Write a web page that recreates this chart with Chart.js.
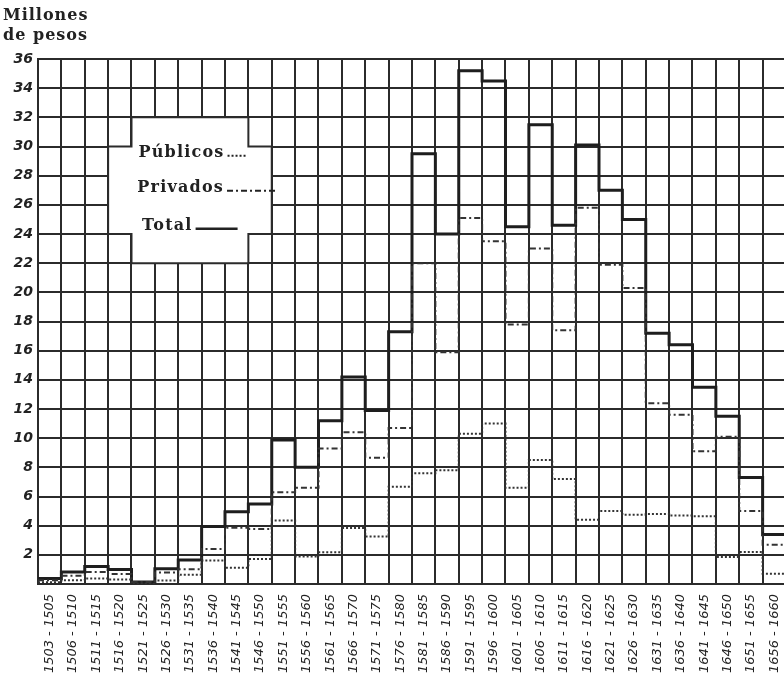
<!DOCTYPE html>
<html>
<head>
<meta charset="utf-8">
<script src="https://cdn.jsdelivr.net/npm/chart.js@4.4.1/dist/chart.umd.min.js"></script>
<style>
html, body { margin: 0; padding: 0; background: #fff; overflow: hidden; }
#wrap { width: 792px; height: 677px; }
</style>
</head>
<body>
<div id="wrap"><canvas id="tesoro"></canvas></div>
<script>
// periodos quinquenales (el primero es de 3 años)
var periodos = ["1503 - 1505", "1506 - 1510", "1511 - 1515", "1516 - 1520", "1521 - 1525", "1526 - 1530",
  "1531 - 1535", "1536 - 1540", "1541 - 1545", "1546 - 1550", "1551 - 1555", "1556 - 1560",
  "1561 - 1565", "1566 - 1570", "1571 - 1575", "1576 - 1580", "1581 - 1585", "1586 - 1590",
  "1591 - 1595", "1596 - 1600", "1601 - 1605", "1606 - 1610", "1611 - 1615", "1616 - 1620",
  "1621 - 1625", "1626 - 1630", "1631 - 1635", "1636 - 1640", "1641 - 1645", "1646 - 1650",
  "1651 - 1655", "1656 - 1660"];

// millones de pesos
var publicos = [0.12, 0.26, 0.38, 0.31, 0.01, 0.24, 0.63, 1.62, 1.11, 1.72, 4.35, 1.88,
  2.18, 3.84, 3.26, 6.67, 7.6, 7.8, 10.3, 11.0, 6.6, 8.5, 7.2, 4.4,
  5.0, 4.75, 4.8, 4.7, 4.65, 1.85, 2.2, 0.7];
var privados = [0.25, 0.56, 0.82, 0.68, 0.13, 0.79, 1.02, 2.4, 3.85, 3.77, 6.3, 6.6,
  9.3, 10.4, 8.65, 10.7, 22.0, 15.9, 25.1, 23.5, 17.8, 23.0, 17.4, 25.8,
  21.9, 20.3, 12.4, 11.6, 9.1, 10.1, 5.0, 2.7];
var total = [0.37, 0.82, 1.2, 0.99, 0.13, 1.04, 1.65, 3.94, 4.95, 5.49, 9.87, 8.0,
  11.2, 14.2, 11.9, 17.3, 29.5, 24.0, 35.2, 34.5, 24.5, 31.5, 24.6, 30.1,
  27.0, 25.0, 17.2, 16.4, 13.5, 11.5, 7.3, 3.4];

var ticksY = [0, 2, 4, 6, 8, 10, 12, 14, 16, 18, 20, 22, 24, 26, 28, 30, 32, 34, 36];

var tinta = "#2b2b2b";

// cada periodo ocupa una columna [i, i+1]
function escalon(vals) {
  var pts = vals.map(function (v, i) { return { x: i, y: v }; });
  pts.push({ x: vals.length, y: vals[vals.length - 1] });
  return pts;
}

// hueco blanco de la leyenda, en columnas / millones
var hueco = [[4, 32], [9, 32], [9, 30], [10, 30], [10, 24], [9, 24], [9, 22], [4, 22],
  [4, 24], [3, 24], [3, 30], [4, 30]];

var leyendaPlugin = {
  id: "leyenda",
  beforeDatasetsDraw: function (chart) {
    var ctx = chart.ctx, xs = chart.scales.x, ys = chart.scales.y;
    ctx.save();
    ctx.beginPath();
    hueco.forEach(function (p, i) {
      var px = xs.getPixelForValue(p[0]), py = ys.getPixelForValue(p[1]);
      if (i == 0) ctx.moveTo(px, py); else ctx.lineTo(px, py);
    });
    ctx.closePath();
    ctx.fillStyle = "#fff";
    ctx.fill();
    ctx.strokeStyle = tinta;
    ctx.lineWidth = 2;
    ctx.stroke();
    ctx.restore();
  },
  afterDraw: function (chart) {
    var ctx = chart.ctx, xs = chart.scales.x, ys = chart.scales.y;
    ctx.save();
    ctx.fillStyle = "#222";
    ctx.font = 'bold 16px "DejaVu Serif"';
    ctx.letterSpacing = "1px";
    ctx.textBaseline = "alphabetic";
    ctx.fillText("Millones", 3, 20);
    ctx.fillText("de pesos", 3, 40);

    ctx.font = 'bold 16px "DejaVu Serif"';
    ctx.letterSpacing = "1.2px";
    var filas = [
      { txt: "Públicos", x: 4.3, y: 29.3, dash: [2, 2], w: 2, largo: 20 },
      { txt: "Privados", x: 4.25, y: 26.9, dash: [6, 3, 2, 3], w: 2, largo: 50 },
      { txt: "Total", x: 4.45, y: 24.3, dash: [], w: 2.5, largo: 42 }
    ];
    filas.forEach(function (f) {
      var px = xs.getPixelForValue(f.x), py = ys.getPixelForValue(f.y);
      ctx.fillText(f.txt, px, py);
      var fin = px + ctx.measureText(f.txt).width;
      ctx.beginPath();
      ctx.setLineDash(f.dash);
      ctx.lineWidth = f.w;
      ctx.strokeStyle = "#222";
      ctx.moveTo(fin + 3, py - 1);
      ctx.lineTo(fin + 3 + f.largo, py - 1);
      ctx.stroke();
    });
    ctx.restore();
  }
};

new Chart(document.getElementById("tesoro"), {
  type: "line",
  data: {
    datasets: [
      { label: "Públicos", data: escalon(publicos), stepped: true, borderColor: "#333",
        borderWidth: 2, borderDash: [2, 2], pointRadius: 0, fill: false },
      { label: "Privados", data: escalon(privados), stepped: true, borderColor: "#333",
        borderWidth: 2, borderDash: [6, 3, 2, 3], pointRadius: 0, fill: false },
      { label: "Total", data: escalon(total), stepped: true, borderColor: "#1e1e1e",
        borderWidth: 3, pointRadius: 0, fill: false }
    ]
  },
  options: {
    responsive: true,
    maintainAspectRatio: false,
    animation: false,
    layout: { padding: { top: 59, right: 2, left: 0, bottom: 0 } },
    plugins: { legend: { display: false }, tooltip: { enabled: false } },
    scales: {
      x: {
        type: "linear", position: "bottom", min: 0, max: 32,
        ticks: { display: false, stepSize: 1 },
        grid: { color: tinta, lineWidth: 2, drawTicks: false },
        border: { color: tinta, width: 2 },
        afterFit: function (s) { s.height = 0; }
      },
      xl: {
        type: "category", position: "bottom", labels: periodos, offset: true,
        grid: { display: false }, border: { display: false },
        ticks: { autoSkip: false, minRotation: 90, maxRotation: 90, padding: 2, color: "#222",
          font: { family: "DejaVu Sans", style: "italic", size: 13 } },
        afterFit: function (s) { s.height = 93; }
      },
      y: {
        min: 0, max: 36,
        afterBuildTicks: function (s) { s.ticks = ticksY.map(function (v) { return { value: v }; }); },
        ticks: { padding: 5, color: "#222",
          font: { family: "DejaVu Sans", style: "italic", weight: "bold", size: 14 },
          callback: function (v) { return v == 0 ? "" : v; } },
        grid: { color: tinta, lineWidth: 2, drawTicks: false },
        border: { color: tinta, width: 2 },
        afterFit: function (s) { s.width = 38; }
      }
    }
  },
  plugins: [leyendaPlugin]
});
</script>
</body>
</html>
